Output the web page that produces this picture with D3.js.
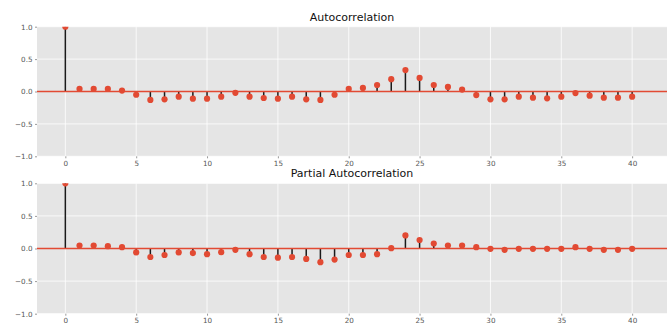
<!DOCTYPE html>
<html>
<head>
<meta charset="utf-8">
<script src="https://cdn.jsdelivr.net/npm/d3@7"></script>
<style>
  html, body { margin: 0; padding: 0; background: #fff; }
  svg { display: block; }
  text { font-family: "DejaVu Sans", sans-serif; }
</style>
</head>
<body>
<svg id="chart" width="667" height="330"></svg>
<script>
// Lags 0..40
const lags = d3.range(0, 41);

// Sample autocorrelation by lag
const acfValues = [
  1.00, 0.04, 0.04, 0.04, 0.015, -0.05, -0.13, -0.12, -0.08, -0.11,
  -0.11, -0.08, -0.02, -0.08, -0.10, -0.11, -0.08, -0.12, -0.13, -0.05,
  0.04, 0.055, 0.10, 0.19, 0.33, 0.21, 0.10, 0.07, 0.03, -0.055,
  -0.12, -0.12, -0.08, -0.095, -0.105, -0.08, -0.025, -0.065, -0.095, -0.095,
  -0.08
];

// Partial autocorrelation by lag
const pacfValues = [
  1.00, 0.046, 0.046, 0.036, 0.02, -0.06, -0.13, -0.10, -0.06, -0.07,
  -0.087, -0.056, -0.02, -0.087, -0.13, -0.14, -0.13, -0.16, -0.21, -0.17,
  -0.10, -0.10, -0.087, 0.005, 0.20, 0.13, 0.077, 0.046, 0.046, 0.02,
  -0.005, -0.02, -0.005, -0.005, -0.005, -0.005, 0.02, -0.005, -0.02, -0.02,
  -0.005
];

const xTicks = [0, 5, 10, 15, 20, 25, 30, 35, 40];
const yTicks = [-1.0, -0.5, 0.0, 0.5, 1.0];
const titles = ["Autocorrelation", "Partial Autocorrelation"];

const svg = d3.select("#chart");
const left = 37, right = 667;
const panels = [
  { title: titles[0], values: acfValues, top: 26.7, bottom: 156.3 },
  { title: titles[1], values: pacfValues, top: 183.3, bottom: 313.7 }
];

const red = "#E24A33";

panels.forEach((p, i) => {
  const x = d3.scaleLinear().domain([-2, 42.46]).range([left, right]);
  const y = d3.scaleLinear().domain([-1, 1]).range([p.bottom, p.top]);
  const g = svg.append("g");

  // Background
  g.append("rect")
    .attr("x", left).attr("y", p.top)
    .attr("width", right - left).attr("height", p.bottom - p.top)
    .attr("fill", "#E5E5E5");

  // Grid
  g.selectAll(".gx").data(xTicks).join("line")
    .attr("x1", d => x(d)).attr("x2", d => x(d))
    .attr("y1", p.top).attr("y2", p.bottom)
    .attr("stroke", "#fff").attr("stroke-width", 0.8);
  g.selectAll(".gy").data(yTicks).join("line")
    .attr("y1", d => y(d)).attr("y2", d => y(d))
    .attr("x1", left).attr("x2", right)
    .attr("stroke", "#fff").attr("stroke-width", 0.8);

  // Axes
  const xAxis = d3.axisBottom(x).tickValues(xTicks).tickFormat(d3.format("d"))
    .tickSize(2).tickPadding(2.5);
  const yAxis = d3.axisLeft(y).tickValues(yTicks).tickFormat(d => d3.format(".1f")(d).replace("-", "\u2212"))
    .tickSize(2).tickPadding(2.5);

  const gx = g.append("g").attr("transform", `translate(0,${p.bottom})`).call(xAxis);
  const gy = g.append("g").attr("transform", `translate(${left},0)`).call(yAxis);
  [gx, gy].forEach(a => {
    a.select(".domain").remove();
    a.selectAll(".tick line").attr("stroke", "#555").attr("stroke-width", 0.6);
    a.selectAll(".tick text").attr("fill", "#555").style("font-size", "7.2px");
  });

  // Clip to plotting area
  const clipId = "clip" + i;
  svg.append("clipPath").attr("id", clipId).append("rect")
    .attr("x", left).attr("y", p.top)
    .attr("width", right - left).attr("height", p.bottom - p.top);
  const plot = g.append("g").attr("clip-path", `url(#${clipId})`);

  const data = lags.map((l, k) => ({ lag: l, v: p.values[k] }));

  // Stems
  plot.selectAll(".stem").data(data).join("line")
    .attr("x1", d => x(d.lag)).attr("x2", d => x(d.lag))
    .attr("y1", y(0)).attr("y2", d => y(d.v))
    .attr("stroke", "#1a1a1a").attr("stroke-width", 1.5);

  // Zero line
  plot.append("line")
    .attr("x1", left).attr("x2", right)
    .attr("y1", y(0)).attr("y2", y(0))
    .attr("stroke", red).attr("stroke-width", 1.4);

  // Markers
  plot.selectAll(".dot").data(data).join("circle")
    .attr("cx", d => x(d.lag)).attr("cy", d => y(d.v))
    .attr("r", 3.1).attr("fill", red);

  // Title
  svg.append("text")
    .attr("x", (left + right) / 2).attr("y", p.top - 6)
    .attr("text-anchor", "middle")
    .attr("fill", "#111")
    .style("font-size", "11px")
    .text(p.title);
});
</script>
</body>
</html>
